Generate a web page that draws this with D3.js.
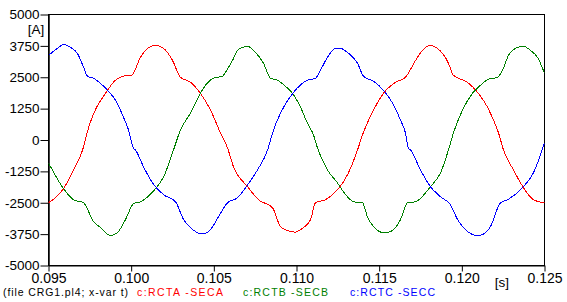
<!DOCTYPE html>
<html>
<head>
<meta charset="utf-8">
<script src="https://cdn.jsdelivr.net/npm/d3@7"></script>
<style>
  body { margin: 0; background: #fff; }
  svg { display: block; font-family: Arial, "Liberation Sans", sans-serif; }
</style>
</head>
<body>
<svg id="chart" width="567" height="302"></svg>
<script>
// values (time in s, current in A)
var redT = [0.09500,0.09542,0.09591,0.09645,0.09706,0.09742,0.09857,0.09905,0.09984,0.10002,0.10056,0.10099,0.10147,0.10196,0.10250,0.10298,0.10359,0.10419,0.10480,0.10540,0.10583,0.10619,0.10704,0.10770,0.10855,0.10903,0.10946,0.10994,0.11024,0.11085,0.11115,0.11175,0.11248,0.11308,0.11369,0.11399,0.11466,0.11526,0.11599,0.11659,0.11720,0.11762,0.11810,0.11853,0.11919,0.11949,0.12034,0.12095,0.12155,0.12222,0.12252,0.12312,0.12373,0.12433,0.12500];
var redI = [-2500,-2300,-1940,-1270,-400,480,1980,2380,2580,2580,3290,3650,3770,3650,3170,2500,2300,1860,1190,280,-320,-1070,-1860,-2380,-2700,-3450,-3610,-3670,-3570,-3170,-2500,-2380,-1980,-1390,-400,200,1190,1860,2300,2500,3170,3570,3770,3650,3060,2580,2300,1900,1310,280,-400,-1190,-1900,-2380,-2500];

var greenT = [0.09500,0.09591,0.09651,0.09712,0.09772,0.09815,0.09875,0.09917,0.09966,0.10014,0.10056,0.10147,0.10196,0.10256,0.10298,0.10359,0.10419,0.10437,0.10498,0.10552,0.10571,0.10613,0.10649,0.10704,0.10752,0.10800,0.10843,0.10885,0.10933,0.10976,0.11024,0.11066,0.11103,0.11127,0.11187,0.11248,0.11284,0.11345,0.11399,0.11429,0.11466,0.11526,0.11568,0.11629,0.11671,0.11720,0.11810,0.11871,0.11919,0.11949,0.12004,0.12064,0.12113,0.12161,0.12216,0.12246,0.12282,0.12324,0.12373,0.12415,0.12458,0.12500];
var greenI = [-910,-1940,-2380,-2500,-3250,-3490,-3810,-3690,-3170,-2540,-2460,-1940,-1470,-400,400,1070,1860,2060,2460,2540,2700,3170,3610,3730,3490,3060,2460,2380,2140,1860,1310,670,200,-320,-1190,-1710,-2060,-2460,-2500,-3060,-3450,-3690,-3650,-3170,-2500,-2460,-1860,-1310,-400,280,1190,1860,2180,2420,2500,2780,3370,3650,3730,3570,3290,2660];

var blueT = [0.09500,0.09554,0.09591,0.09633,0.09675,0.09712,0.09736,0.09772,0.09827,0.09863,0.09905,0.09948,0.09984,0.10014,0.10026,0.10075,0.10129,0.10196,0.10268,0.10317,0.10359,0.10419,0.10437,0.10480,0.10528,0.10583,0.10643,0.10704,0.10764,0.10825,0.10855,0.10903,0.10982,0.11066,0.11115,0.11145,0.11187,0.11236,0.11266,0.11308,0.11369,0.11405,0.11466,0.11526,0.11581,0.11629,0.11659,0.11677,0.11690,0.11750,0.11810,0.11871,0.11931,0.11974,0.12022,0.12095,0.12125,0.12173,0.12234,0.12276,0.12355,0.12433,0.12500];
var blueI = [3370,3650,3810,3690,3450,2900,2540,2460,2180,1940,1590,990,400,-320,-400,-1070,-1710,-2180,-2460,-3170,-3490,-3730,-3730,-3570,-3060,-2500,-2300,-1790,-1190,-400,280,1070,1900,2380,2460,2780,3290,3650,3650,3490,3060,2540,2340,1980,1470,790,280,-320,-400,-1190,-1860,-2260,-2580,-3170,-3570,-3810,-3770,-3450,-2500,-2380,-1980,-1310,-120];

var xTicks = [0.095, 0.100, 0.105, 0.110, 0.115, 0.120, 0.125];
var yTicks = [-5000, -3750, -2500, -1250, 0, 1250, 2500, 3750, 5000];

var svg = d3.select("#chart");

var x = d3.scaleLinear().domain([0.095, 0.125]).range([48.5, 544.5]);
var y = d3.scaleLinear().domain([-5000, 5000]).range([265.5, 14.5]);

// frame
svg.append("rect")
    .attr("x", 48.5).attr("y", 14.5)
    .attr("width", 496).attr("height", 251)
    .attr("fill", "none").attr("stroke", "#000").attr("stroke-width", 1);

var yAxis = d3.axisLeft(y)
    .tickValues(yTicks)
    .tickSize(8)
    .tickSizeOuter(0)
    .tickPadding(1)
    .tickFormat(function(d){ return String(d); });

svg.append("g")
    .attr("transform", "translate(48.5,0)")
    .call(yAxis)
    .call(function(g){
        g.select(".domain").attr("stroke-width", 1.5);
        g.selectAll("text").attr("font-size", 13.5).attr("fill", "#000").attr("font-family", "Arial, 'Liberation Sans', sans-serif");
    });

var xAxis = d3.axisBottom(x)
    .tickValues(xTicks)
    .tickSize(6)
    .tickSizeOuter(0)
    .tickPadding(2)
    .tickFormat(d3.format(".3f"));

svg.append("g")
    .attr("transform", "translate(0,265.5)")
    .call(xAxis)
    .call(function(g){
        g.selectAll("text").attr("font-size", 14).attr("fill", "#000").attr("font-family", "Arial, 'Liberation Sans', sans-serif");
    });

svg.append("text").attr("x", 36).attr("y", 29).attr("dy", "0.35em")
    .attr("text-anchor", "middle").attr("font-size", 13.5).text("[A]");
svg.append("text").attr("x", 502).attr("y", 282).attr("dy", "0.35em")
    .attr("text-anchor", "middle").attr("font-size", 13.5).text("[s]");

// curves
svg.append("clipPath").attr("id", "clip")
    .append("rect").attr("x", 48.5).attr("y", 14.5).attr("width", 496).attr("height", 251);

var line = d3.line()
    .x(function(d){ return x(d[0]); })
    .y(function(d){ return y(d[1]); })
    .curve(d3.curveMonotoneX);

var series = [
    {t: redT, v: redI, color: "#ff0000"},
    {t: greenT, v: greenI, color: "#008000"},
    {t: blueT, v: blueI, color: "#0000ff"}
];

series.forEach(function(s){
    var pts = s.t.map(function(t, i){ return [t, s.v[i]]; });
    svg.append("path")
        .attr("clip-path", "url(#clip)")
        .attr("d", line(pts))
        .attr("fill", "none")
        .attr("stroke", s.color)
        .attr("stroke-width", 1)
        .attr("shape-rendering", "crispEdges");
});

// legend line under the axis
var legend = [
    {text: "(file CRG1.pl4; x-var t)", x: 3, w: 125, color: "#000"},
    {text: "c:RCTA -SECA", x: 137, w: 86, color: "#ff0000"},
    {text: "c:RCTB -SECB", x: 243, w: 85, color: "#008000"},
    {text: "c:RCTC -SECC", x: 350, w: 85, color: "#0000ff"}
];
legend.forEach(function(l){
    svg.append("text")
        .attr("x", l.x).attr("y", 292).attr("dy", "0.35em")
        .attr("font-size", 10.5)
        .attr("fill", l.color)
        .attr("textLength", l.w)
        .attr("lengthAdjust", "spacing")
        .text(l.text);
});
</script>
</body>
</html>
